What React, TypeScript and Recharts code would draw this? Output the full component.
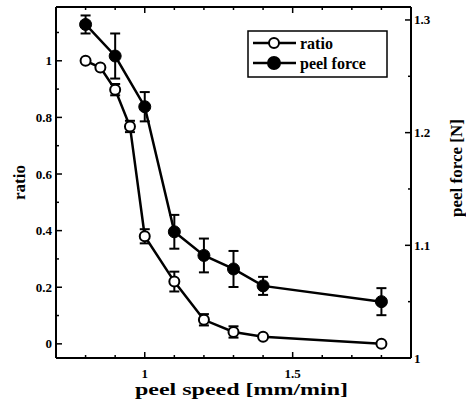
import React from "react";
import { ComposedChart, Line, XAxis, YAxis, ErrorBar, Legend } from "recharts";

// axis ticks and which of them carry a label
const speedTicks = [0.8, 0.9, 1, 1.1, 1.2, 1.3, 1.4, 1.5, 1.6, 1.7, 1.8];
const speedLabels = [1, 1.5];
const ratioTicks = [0, 0.1, 0.2, 0.3, 0.4, 0.5, 0.6, 0.7, 0.8, 0.9, 1, 1.1];
const ratioLabels = [0, 0.2, 0.4, 0.6, 0.8, 1];
const forceTicks = [1, 1.05, 1.1, 1.15, 1.2, 1.25, 1.3];
const forceLabels = [1, 1.1, 1.2, 1.3];

// ratio series (open circles)
const ratioSpeed = [0.8, 0.85, 0.9, 0.95, 1, 1.1, 1.2, 1.3, 1.4, 1.8];
const ratioValue = [1.0, 0.976, 0.898, 0.768, 0.38, 0.22, 0.085, 0.042, 0.025, 0.0];
const ratioError = [0, 0, 0.02, 0.02, 0.025, 0.035, 0.02, 0.02, 0, 0];

// peel force series (filled circles)
const forceSpeed = [0.8, 0.9, 1, 1.1, 1.2, 1.3, 1.4, 1.8];
const forceValue = [1.296, 1.268, 1.223, 1.112, 1.091, 1.079, 1.064, 1.05];
const forceError = [0.008, 0.02, 0.013, 0.015, 0.015, 0.016, 0.008, 0.012];

const ratioData = ratioSpeed.map((s, i) => ({ speed: s, ratio: ratioValue[i], err: ratioError[i] }));
const forceData = forceSpeed.map((s, i) => ({ speed: s, force: forceValue[i], err: forceError[i] }));

const serif = "Liberation Serif, DejaVu Serif, serif";
const tickStyle = { fontFamily: serif, fontSize: 13, fontWeight: 700 };

const LeftTick = ({ x, y, payload }: any) => {
  const major = ratioLabels.includes(payload.value);
  return (
    <g>
      <line x1={x} y1={y} x2={x + (major ? 6 : 3)} y2={y} stroke="#000" strokeWidth={1.5} />
      {major && (
        <text x={x - 4} y={y} textAnchor="end" dominantBaseline="central" fill="#000" style={tickStyle}>
          {payload.value}
        </text>
      )}
    </g>
  );
};

const RightTick = ({ x, y, payload }: any) => {
  const major = forceLabels.includes(payload.value);
  return (
    <g>
      <line x1={x} y1={y} x2={x - (major ? 6 : 3)} y2={y} stroke="#000" strokeWidth={1.5} />
      {major && (
        <text x={x + 3} y={y} textAnchor="start" dominantBaseline="central" fill="#000" style={tickStyle}>
          {payload.value}
        </text>
      )}
    </g>
  );
};

const BottomTick = ({ x, y, payload }: any) => {
  const major = speedLabels.includes(payload.value);
  return (
    <g>
      <line x1={x} y1={y} x2={x} y2={y - (major ? 6 : 3)} stroke="#000" strokeWidth={1.5} />
      {major && (
        <text x={x} y={y + 15} textAnchor="middle" dominantBaseline="central" fill="#000" style={tickStyle}>
          {payload.value}
        </text>
      )}
    </g>
  );
};

const TopTick = ({ x, y, payload }: any) => {
  const major = speedLabels.includes(payload.value);
  return <line x1={x} y1={y} x2={x} y2={y + (major ? 6 : 3)} stroke="#000" strokeWidth={1.5} />;
};

const titleStyle = { fontFamily: serif, fontSize: 17, fontWeight: 700 };

const XTitle = ({ viewBox }: any) => (
  <text
    x={viewBox.x + viewBox.width / 2 + 8}
    y={viewBox.y + 37}
    textAnchor="middle"
    textLength={213}
    lengthAdjust="spacingAndGlyphs"
    fill="#000"
    style={titleStyle}
  >
    peel speed [mm/min]
  </text>
);

const LeftTitle = ({ viewBox }: any) => {
  const cx = viewBox.x + 19;
  const cy = viewBox.y + viewBox.height / 2;
  return (
    <text x={cx} y={cy} transform={`rotate(-90, ${cx}, ${cy})`} textAnchor="middle" dominantBaseline="central" fill="#000" style={titleStyle}>
      ratio
    </text>
  );
};

const RightTitle = ({ viewBox }: any) => {
  const cx = viewBox.x + 45;
  const cy = viewBox.y + 161;
  return (
    <text x={cx} y={cy} transform={`rotate(-90, ${cx}, ${cy})`} textAnchor="middle" dominantBaseline="central" fill="#000" style={titleStyle}>
      peel force [N]
    </text>
  );
};

const legendOrder = ["ratio", "force"];

const LegendBox = ({ payload }: any) => {
  // one entry per series (the marker overlays share the same name)
  const seen: string[] = [];
  const items = (payload || []).filter((p: any) => {
    if (!legendOrder.includes(p.dataKey) || seen.includes(p.dataKey)) return false;
    seen.push(p.dataKey);
    return true;
  });
  items.sort((a: any, b: any) => legendOrder.indexOf(a.dataKey) - legendOrder.indexOf(b.dataKey));
  return (
    <svg width={141} height={48} style={{ display: "block" }}>
      <rect x={1} y={1} width={139} height={46} fill="#fff" stroke="#000" strokeWidth={1.5} />
      {items.map((p: any, i: number) => {
        const cy = 13 + i * 20;
        const filled = p.dataKey === "force";
        return (
          <g key={i}>
            <line x1={6} y1={cy} x2={49} y2={cy} stroke="#000" strokeWidth={2.5} />
            <circle cx={27} cy={cy} r={filled ? 6 : 5} fill={filled ? "#000" : "#fff"} stroke="#000" strokeWidth={2} />
            <text x={53} y={cy} dominantBaseline="central" fill="#000" style={{ fontFamily: serif, fontSize: 16, fontWeight: 700 }}>
              {p.value}
            </text>
          </g>
        );
      })}
    </svg>
  );
};

const axisLine = { stroke: "#000", strokeWidth: 2 };

export default function App() {
  return (
    <div style={{ position: "absolute", left: 0, top: 0, width: 466, height: 410, background: "#fff" }}>
      <ComposedChart width={466} height={410} margin={{ top: 0, right: 0, bottom: 0, left: 0 }}>
        <XAxis
          xAxisId="bottom"
          dataKey="speed"
          type="number"
          domain={[0.7, 1.9]}
          allowDataOverflow
          ticks={speedTicks}
          interval={0}
          height={52}
          tickSize={0}
          tickMargin={0}
          tickLine={false}
          axisLine={axisLine}
          tick={BottomTick}
          label={XTitle}
        />
        <XAxis
          xAxisId="top"
          orientation="top"
          dataKey="speed"
          type="number"
          domain={[0.7, 1.9]}
          allowDataOverflow
          ticks={speedTicks}
          interval={0}
          height={7}
          tickSize={0}
          tickMargin={0}
          tickLine={false}
          axisLine={axisLine}
          tick={TopTick}
        />
        <YAxis
          yAxisId="ratio"
          type="number"
          domain={[-0.05, 1.19]}
          allowDataOverflow
          ticks={ratioTicks}
          interval={0}
          width={56}
          tickSize={0}
          tickMargin={0}
          tickLine={false}
          axisLine={axisLine}
          tick={LeftTick}
          label={LeftTitle}
        />
        <YAxis
          yAxisId="force"
          orientation="right"
          type="number"
          domain={[1.0, 1.3115]}
          allowDataOverflow
          ticks={forceTicks}
          interval={0}
          width={55}
          tickSize={0}
          tickMargin={0}
          tickLine={false}
          axisLine={axisLine}
          tick={RightTick}
          label={RightTitle}
        />
        <Legend
          layout="horizontal"
          verticalAlign="middle"
          align="center"
          content={LegendBox}
          wrapperStyle={{ left: 247, top: 30, width: 141, height: 48 }}
        />
        <Line
          name="ratio"
          data={ratioData}
          dataKey="ratio"
          xAxisId="bottom"
          yAxisId="ratio"
          type="linear"
          stroke="#000"
          strokeWidth={2.5}
          dot={false}
          isAnimationActive={false}
        >
          <ErrorBar dataKey="err" direction="y" width={5} stroke="#000" strokeWidth={2} />
        </Line>
        <Line
          name="peel force"
          data={forceData}
          dataKey="force"
          xAxisId="bottom"
          yAxisId="force"
          type="linear"
          stroke="#000"
          strokeWidth={2.5}
          dot={false}
          isAnimationActive={false}
        >
          <ErrorBar dataKey="err" direction="y" width={5} stroke="#000" strokeWidth={2} />
        </Line>
        {/* markers drawn on top of the error bars */}
        <Line
          name="ratio"
          data={ratioData}
          dataKey="ratio"
          xAxisId="bottom"
          yAxisId="ratio"
          stroke="none"
          legendType="none"
          dot={{ r: 5, fill: "#fff", stroke: "#000", strokeWidth: 2 }}
          isAnimationActive={false}
        />
        <Line
          name="peel force"
          data={forceData}
          dataKey="force"
          xAxisId="bottom"
          yAxisId="force"
          stroke="none"
          legendType="none"
          dot={{ r: 6, fill: "#000", stroke: "#000", strokeWidth: 1 }}
          isAnimationActive={false}
        />
      </ComposedChart>
    </div>
  );
}
